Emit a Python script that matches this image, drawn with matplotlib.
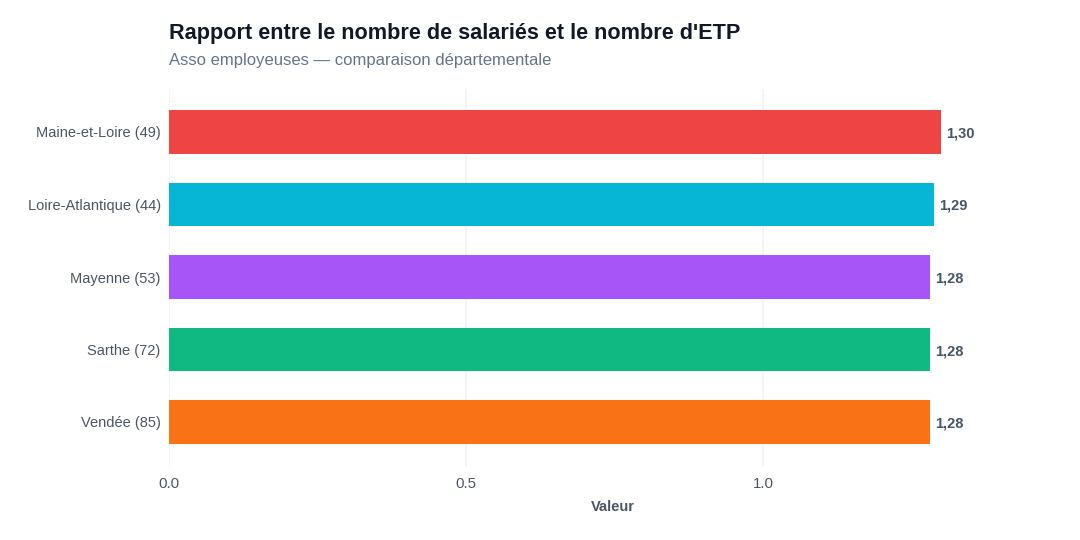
import matplotlib
matplotlib.use("Agg")
from matplotlib import pyplot as plt
import numpy as np

plt.rcParams['font.family'] = ['Liberation Sans', 'DejaVu Sans']

# donnees
departements = ['Maine-et-Loire (49)', 'Loire-Atlantique (44)', 'Mayenne (53)', 'Sarthe (72)', 'Vendée (85)']
valeurs = [1.300, 1.288, 1.282, 1.281, 1.281]
couleurs = ['#EF4444', '#06B6D4', '#A855F7', '#10B981', '#F97316']
ticks_x = [0.0, 0.5, 1.0]

fig = plt.figure(figsize=(10.8, 5.4), dpi=100)
# axes place a la main (pixels -> fraction)
x0, x1 = 169 / 1080, 1057 / 1080
y_top, y_bot = 88.5 / 540, 465.5 / 540
ax = fig.add_axes([x0, 1 - y_bot, x1 - x0, y_bot - y_top])

y = np.arange(len(departements))
ax.barh(y, valeurs, height=0.6, color=couleurs, zorder=3)
ax.set_ylim(len(departements) - 0.4, -0.6)
ax.set_xlim(0, 1.495)

for yi, v in zip(y, valeurs):
    ax.text(v + 0.008, yi, f'{v:.2f}'.replace('.', ','), va='center_baseline', ha='left',
            fontsize=10.5, fontweight='bold', color='#475569')

ax.set_yticks(y)
ax.set_yticklabels(departements, fontsize=10.5, color='#4B5563')
ax.set_xticks(ticks_x)
ax.set_xticklabels([f'{t:.1f}' for t in ticks_x], fontsize=10.8, color='#4B5563')
ax.tick_params(length=0, pad=6)
ax.tick_params(axis='x', pad=8)
ax.grid(axis='x', color='#F3F4F6', linewidth=1.2, zorder=0)
for s in ax.spines.values():
    s.set_visible(False)

ax.set_xlabel('Valeur', fontsize=10.5, fontweight='bold', color='#4B5563', labelpad=7)

fig.text(x0, 1 - 34 / 540, "Rapport entre le nombre de salariés et le nombre d'ETP",
         fontsize=15.6, fontweight='bold', color='#111827', va='center', ha='left')
fig.text(x0, 1 - 61 / 540, 'Asso employeuses — comparaison départementale',
         fontsize=12, color='#64748B', va='center', ha='left')

fig.savefig('out.png', dpi=100, facecolor='white')
